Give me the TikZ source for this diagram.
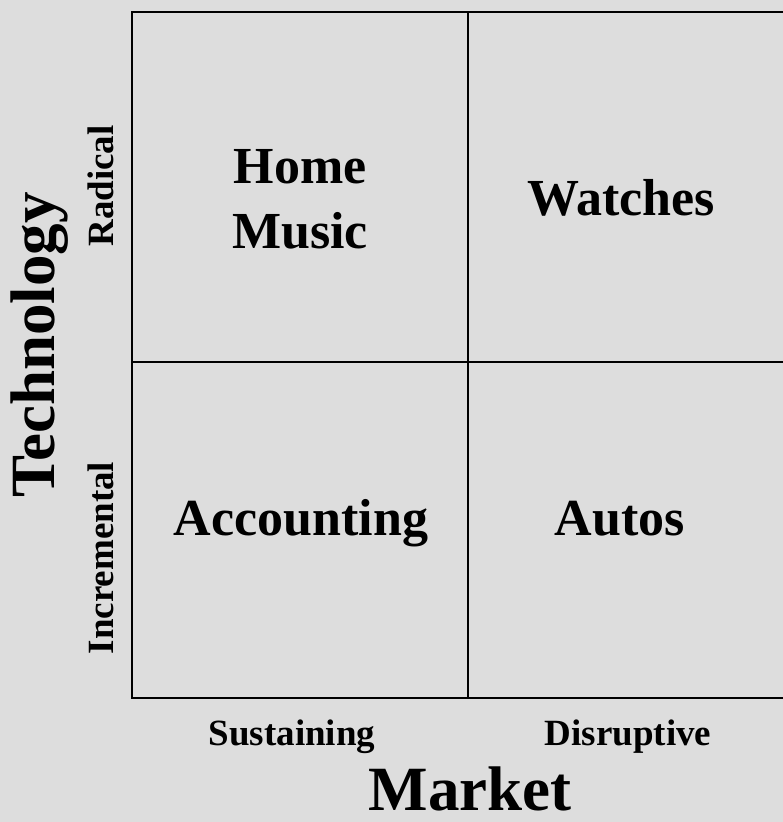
\documentclass[tikz,border=0pt]{standalone}
\usepackage{fontspec}
\setmainfont{Liberation Serif}
\definecolor{paper}{HTML}{DDDDDD}
\begin{document}
\begin{tikzpicture}[x=1pt,y=-1pt,
  grid/.style={line width=2pt,black},
  cell/.style={font=\fontsize{52}{65}\selectfont\bfseries,align=center,inner sep=0pt},
  axis/.style={font=\fontsize{63}{70}\selectfont\bfseries,inner sep=0pt,anchor=base},
  level/.style={font=\fontsize{37}{40}\selectfont\bfseries,inner sep=0pt,anchor=base}]
  % page and background
  \fill[paper] (0,0) rectangle (783,822);
  \useasboundingbox (0,0) rectangle (783,822);
  % corners of the 2x2 matrix (right side runs off the page)
  \coordinate (tl) at (132,12);
  \coordinate (br) at (800,698);
  \coordinate (tm) at (468,12);
  \coordinate (bm) at (468,698);
  \coordinate (ml) at (132,362);
  \coordinate (mr) at (800,362);
  \begin{scope}
    \clip (0,0) rectangle (783,822);
    \draw[grid] (tl) rectangle (br);
    \draw[grid] (tm) -- (bm);
    \draw[grid] (ml) -- (mr);
  \end{scope}
  % quadrant contents
  \node[cell,anchor=base] (music) at (300,248) {Home\\Music};
  \node[cell,anchor=base] (watches) at (621,215) {Watches};
  \node[cell,anchor=base] (accounting) at (301,535) {Accounting};
  \node[cell,anchor=base] (autos) at (620,535) {Autos};
  % axis levels
  \node[level] (sustaining) at (292,745) {Sustaining};
  \node[level] (disruptive) at (628,745) {Disruptive};
  \node[level,rotate=90] (radical) at (113,186) {Radical};
  \node[level,rotate=90] (incremental) at (113,558) {Incremental};
  % axis titles
  \node[axis,text depth=0pt] (market) at (470,810) {Market};
  \node[axis,rotate=90] (technology) at (54,345) {Technology};
\end{tikzpicture}
\end{document}
